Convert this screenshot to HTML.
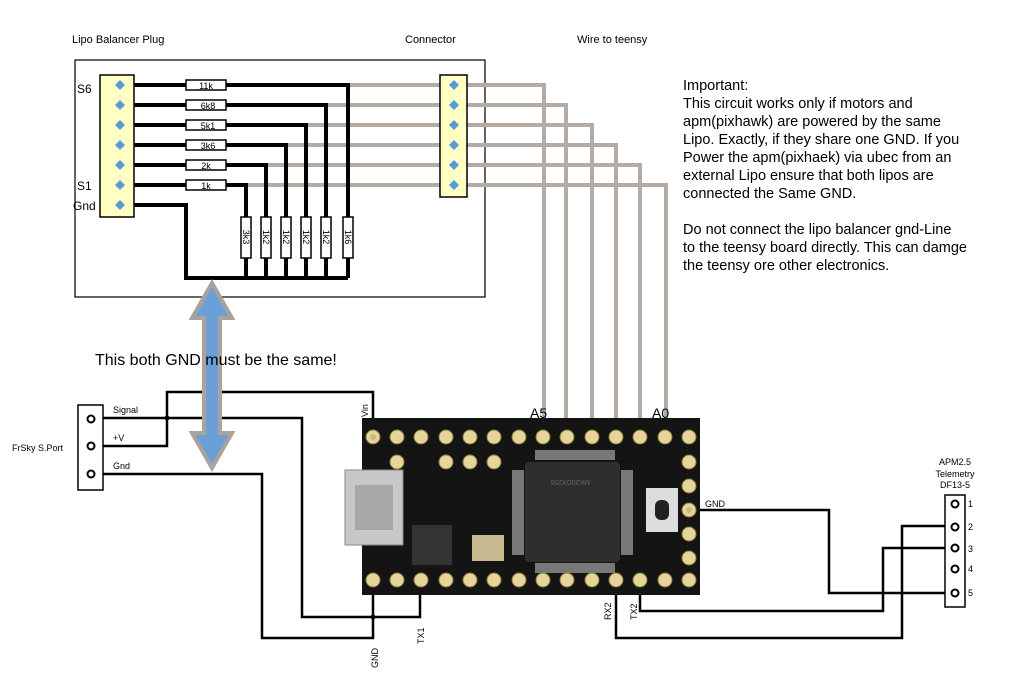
<!DOCTYPE html>
<html><head><meta charset="utf-8"><style>
body{margin:0;background:#fff;width:1024px;height:685px;overflow:hidden}
svg{display:block}
text{font-family:"Liberation Sans",sans-serif}
</style></head><body>
<svg width="1024" height="685" viewBox="0 0 1024 685" xmlns="http://www.w3.org/2000/svg">
<rect width="1024" height="685" fill="#fff"/>
<text x="72" y="43" font-size="11">Lipo Balancer Plug</text>
<text x="405" y="43" font-size="11">Connector</text>
<text x="577" y="43" font-size="11">Wire to teensy</text>
<rect x="75" y="60" width="410" height="237" fill="none" stroke="#000" stroke-width="1.2"/>

<!-- gray wires -->
<g stroke="#b3aba4" stroke-width="4" fill="none">
<polyline points="348,85 544,85 544,437"/>
<polyline points="326,105 566,105 566,437"/>
<polyline points="306,125 592,125 592,437"/>
<polyline points="286,145 616,145 616,437"/>
<polyline points="266,165 640,165 640,437"/>
<polyline points="246,185 666,185 666,437"/>
</g>

<!-- black wires in box -->
<g stroke="#000" stroke-width="4" fill="none">
<polyline points="134,85 186,85"/><polyline points="226,85 348,85 348,278"/>
<polyline points="134,105 186,105"/><polyline points="226,105 326,105 326,278"/>
<polyline points="134,125 186,125"/><polyline points="226,125 306,125 306,278"/>
<polyline points="134,145 186,145"/><polyline points="226,145 286,145 286,278"/>
<polyline points="134,165 186,165"/><polyline points="226,165 266,165 266,278"/>
<polyline points="134,185 186,185"/><polyline points="226,185 246,185 246,278"/>
<polyline points="134,205 186,205 186,278 348,278"/>
</g>
<!-- horizontal resistors -->
<g font-size="9" text-anchor="middle">
<rect x="186" y="80" width="40" height="10" fill="#fff" stroke="#000" stroke-width="1.5"/><text x="206" y="89">11k</text>
<rect x="186" y="100" width="40" height="10" fill="#fff" stroke="#000" stroke-width="1.5"/><text x="208" y="109">6k8</text>
<rect x="186" y="120" width="40" height="10" fill="#fff" stroke="#000" stroke-width="1.5"/><text x="208" y="129">5k1</text>
<rect x="186" y="140" width="40" height="10" fill="#fff" stroke="#000" stroke-width="1.5"/><text x="208" y="149">3k6</text>
<rect x="186" y="160" width="40" height="10" fill="#fff" stroke="#000" stroke-width="1.5"/><text x="206" y="169">2k</text>
<rect x="186" y="180" width="40" height="10" fill="#fff" stroke="#000" stroke-width="1.5"/><text x="206" y="189">1k</text>
</g>
<!-- vertical resistors -->
<g font-size="9" text-anchor="middle">
<rect x="241" y="217" width="10" height="41" fill="#fff" stroke="#000" stroke-width="1.5"/><text transform="translate(243,237) rotate(90)">3k3</text>
<rect x="261" y="217" width="10" height="41" fill="#fff" stroke="#000" stroke-width="1.5"/><text transform="translate(263,237) rotate(90)">1k2</text>
<rect x="281" y="217" width="10" height="41" fill="#fff" stroke="#000" stroke-width="1.5"/><text transform="translate(283,237) rotate(90)">1k2</text>
<rect x="301" y="217" width="10" height="41" fill="#fff" stroke="#000" stroke-width="1.5"/><text transform="translate(303,237) rotate(90)">1k2</text>
<rect x="321" y="217" width="10" height="41" fill="#fff" stroke="#000" stroke-width="1.5"/><text transform="translate(323,237) rotate(90)">1k2</text>
<rect x="343" y="217" width="10" height="41" fill="#fff" stroke="#000" stroke-width="1.5"/><text transform="translate(345,237) rotate(90)">1k6</text>
</g>
<!-- balancer connector -->
<rect x="100" y="75" width="34" height="142" fill="#ffffc4" stroke="#000" stroke-width="1.5"/>
<rect x="440" y="75" width="27" height="122" fill="#ffffc4" stroke="#000" stroke-width="1.5"/>
<g fill="#5b9bd5">
<path d="M120 80l5 5-5 5-5-5z"/><path d="M120 100l5 5-5 5-5-5z"/><path d="M120 120l5 5-5 5-5-5z"/><path d="M120 140l5 5-5 5-5-5z"/><path d="M120 160l5 5-5 5-5-5z"/><path d="M120 180l5 5-5 5-5-5z"/><path d="M120 200l5 5-5 5-5-5z"/>
<path d="M454 80l5 5-5 5-5-5z"/><path d="M454 100l5 5-5 5-5-5z"/><path d="M454 120l5 5-5 5-5-5z"/><path d="M454 140l5 5-5 5-5-5z"/><path d="M454 160l5 5-5 5-5-5z"/><path d="M454 180l5 5-5 5-5-5z"/>
</g>
<text x="77" y="93" font-size="12">S6</text>
<text x="77" y="190" font-size="12">S1</text>
<text x="73" y="210" font-size="12">Gnd</text>

<g font-size="14.5">
<text x="683" y="90">Important:</text>
<text x="683" y="108">This circuit works only if motors and</text>
<text x="683" y="126">apm(pixhawk) are powered by the same</text>
<text x="683" y="144">Lipo. Exactly, if they share one GND. If you</text>
<text x="683" y="162">Power the apm(pixhaek) via ubec from an</text>
<text x="683" y="180">external Lipo ensure that both lipos are</text>
<text x="683" y="198">connected the Same GND.</text>
<text x="683" y="234">Do not connect the lipo balancer gnd-Line</text>
<text x="683" y="252">to the teensy board directly. This can damge</text>
<text x="683" y="270">the teensy ore other electronics.</text>
</g>

<!-- frsky wires -->
<g stroke="#000" stroke-width="2.5" fill="none">
<polyline points="91,418 302,418 302,617 420,617 420,580"/>
<polyline points="91,446 167,446 167,392 373,392 373,437"/>
<polyline points="91,474 262,474 262,638 373,638 373,580"/>
<polyline points="689,510 829,510 829,593 955,593"/>
<polyline points="640,580 640,611 883,611 883,548 955,548"/>
<polyline points="616,580 616,638 902,638 902,526 955,526"/>
</g>
<circle cx="167" cy="418" r="2.5"/><circle cx="373" cy="617" r="2.5"/>

<!-- blue arrow -->
<path d="M212 283 L232 318 L220 318 L220 433 L232 433 L212 468 L192 433 L204 433 L204 318 L192 318 Z" fill="#6a9fd8" stroke="#aaa29b" stroke-width="4" stroke-linejoin="miter"/>
<text x="95" y="365" font-size="16">This both GND must be the same!</text>

<!-- FrSky connector -->
<rect x="78" y="405" width="25" height="85" fill="#fff" stroke="#000" stroke-width="1.5"/>
<g fill="#fff" stroke="#000" stroke-width="2"><circle cx="91" cy="419" r="3.5"/><circle cx="91" cy="446" r="3.5"/><circle cx="91" cy="474" r="3.5"/></g>
<g font-size="9"><text x="113" y="413">Signal</text><text x="113" y="441">+V</text><text x="113" y="469">Gnd</text><text x="12" y="451">FrSky S.Port</text></g>

<!-- teensy -->
<rect x="362" y="418" width="338" height="177" fill="#141414"/>
<rect x="525" y="462" width="95" height="100" rx="4" fill="#2e2e2e"/>
<g fill="#bbb"><rect x="535" y="450" width="80" height="10" opacity=".6"/><rect x="535" y="563" width="80" height="10" opacity=".6"/><rect x="512" y="470" width="12" height="85" opacity=".6"/><rect x="621" y="470" width="12" height="85" opacity=".6"/></g>
<rect x="345" y="470" width="58" height="75" fill="#c8c8c8" stroke="#888"/>
<rect x="355" y="485" width="38" height="45" fill="#a8a8a8"/>
<rect x="412" y="525" width="40" height="40" fill="#333"/>
<rect x="472" y="535" width="32" height="26" fill="#c8b890"/>
<rect x="646" y="488" width="32" height="44" fill="#ddd"/><rect x="655" y="500" width="14" height="20" rx="6" fill="#222"/>
<text x="0" y="0" font-size="7" fill="#666" transform="translate(590,480) rotate(180)">MK20DX256</text>
<g fill="#e6d59a" stroke="#8c7a3a" stroke-width="1">
<circle cx="373" cy="437" r="7"/><circle cx="397" cy="437" r="7"/><circle cx="421" cy="437" r="7"/><circle cx="446" cy="437" r="7"/><circle cx="470" cy="437" r="7"/><circle cx="494" cy="437" r="7"/><circle cx="519" cy="437" r="7"/><circle cx="543" cy="437" r="7"/><circle cx="567" cy="437" r="7"/><circle cx="592" cy="437" r="7"/><circle cx="616" cy="437" r="7"/><circle cx="640" cy="437" r="7"/><circle cx="665" cy="437" r="7"/><circle cx="689" cy="437" r="7"/>
<circle cx="373" cy="580" r="7"/><circle cx="397" cy="580" r="7"/><circle cx="421" cy="580" r="7"/><circle cx="446" cy="580" r="7"/><circle cx="470" cy="580" r="7"/><circle cx="494" cy="580" r="7"/><circle cx="519" cy="580" r="7"/><circle cx="543" cy="580" r="7"/><circle cx="567" cy="580" r="7"/><circle cx="592" cy="580" r="7"/><circle cx="616" cy="580" r="7"/><circle cx="640" cy="580" r="7"/><circle cx="665" cy="580" r="7"/><circle cx="689" cy="580" r="7"/>
<circle cx="689" cy="462" r="7"/><circle cx="689" cy="486" r="7"/><circle cx="689" cy="510" r="7"/><circle cx="689" cy="534" r="7"/><circle cx="689" cy="558" r="7"/>
<circle cx="397" cy="462" r="7"/><circle cx="446" cy="462" r="7"/><circle cx="470" cy="462" r="7"/><circle cx="494" cy="462" r="7"/>
</g>
<g fill="#c9b98a"><circle cx="373" cy="437" r="3"/><circle cx="689" cy="510" r="3"/></g>

<g font-size="14"><text x="530" y="418">A5</text><text x="652" y="418">A0</text></g>
<g font-size="9">
<text transform="translate(368,417) rotate(-90)">Vin</text>
<text transform="translate(378,668) rotate(-90)">GND</text>
<text transform="translate(424,644) rotate(-90)">TX1</text>
<text transform="translate(611,620) rotate(-90)">RX2</text>
<text transform="translate(637,620) rotate(-90)">TX2</text>
<text x="705" y="507">GND</text>
</g>

<!-- APM connector -->
<rect x="945" y="495" width="20" height="112" fill="#fff" stroke="#000" stroke-width="1.5"/>
<g fill="#fff" stroke="#000" stroke-width="2"><circle cx="955" cy="504" r="3.5"/><circle cx="955" cy="527" r="3.5"/><circle cx="955" cy="548" r="3.5"/><circle cx="955" cy="569" r="3.5"/><circle cx="955" cy="593" r="3.5"/></g>
<g font-size="9"><text x="968" y="507">1</text><text x="968" y="530">2</text><text x="968" y="552">3</text><text x="968" y="572">4</text><text x="968" y="596">5</text></g>
<g font-size="9" text-anchor="middle"><text x="955" y="465">APM2.5</text><text x="955" y="477">Telemetry</text><text x="955" y="488">DF13-5</text></g>
</svg>
</body></html>
